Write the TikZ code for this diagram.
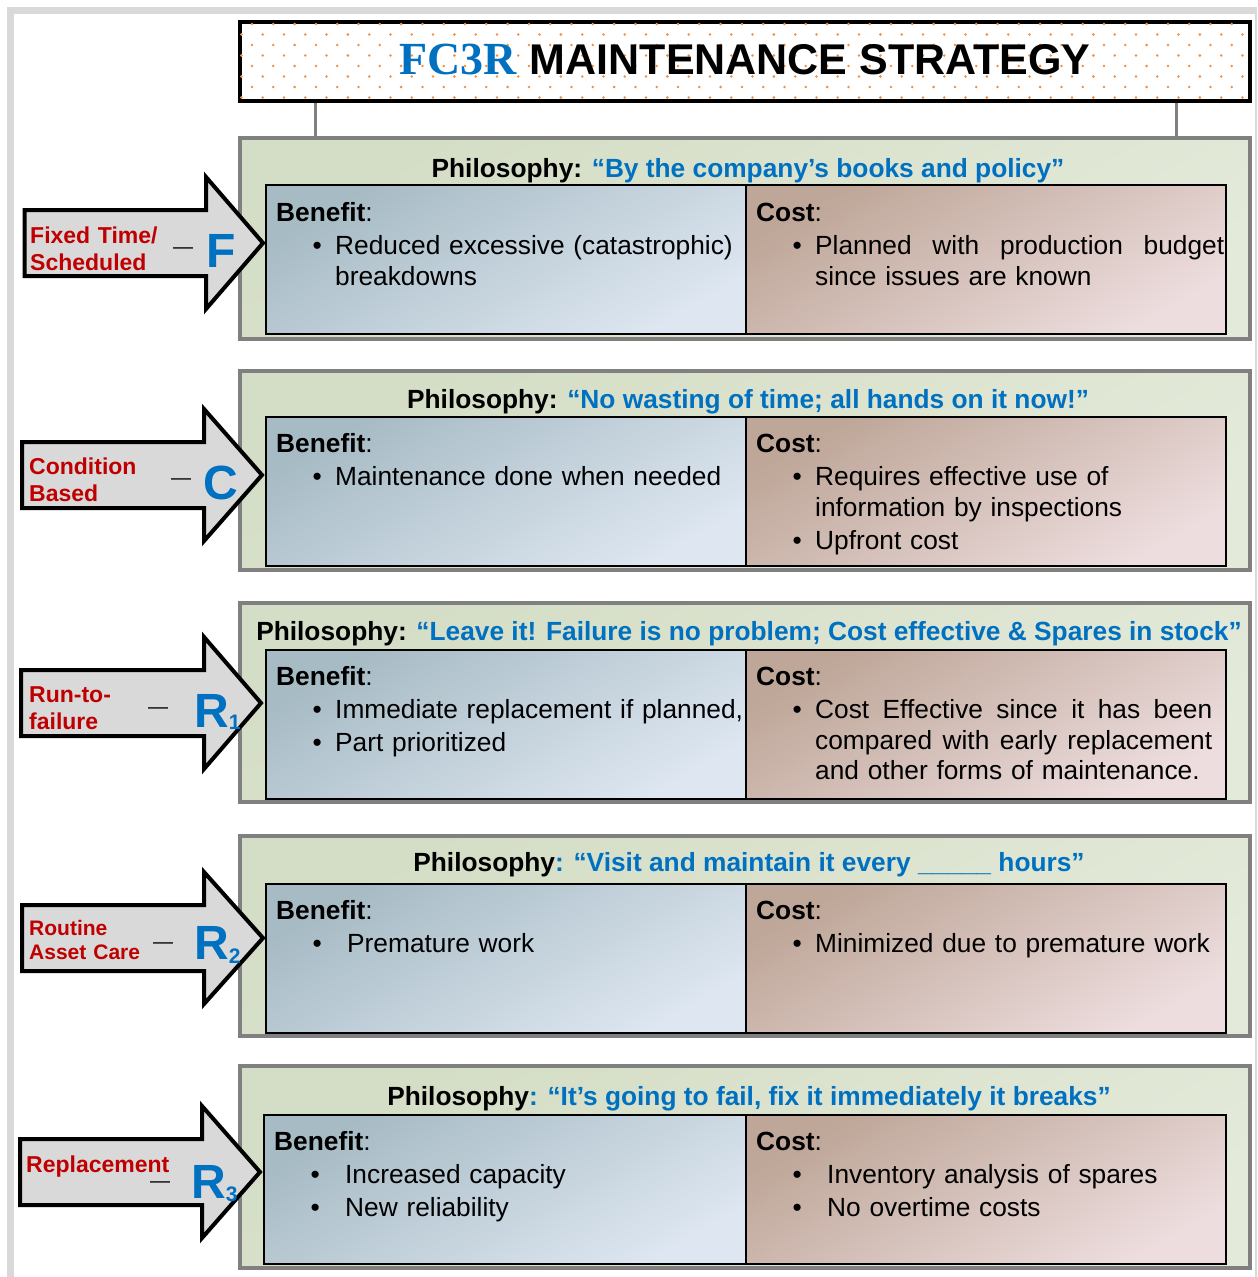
\documentclass[tikz,border=0pt]{standalone}
\usepackage{fontspec}
\setmainfont{Liberation Sans}
\newfontfamily\serifb{Liberation Serif}
\definecolor{tblue}{HTML}{0070C0}
\definecolor{tred}{HTML}{C00000}
\definecolor{agray}{HTML}{D9D9D9}
\definecolor{pgray}{HTML}{808080}
\definecolor{framec}{HTML}{D9D9D9}
\definecolor{dotc}{HTML}{F39040}
\definecolor{panTop}{HTML}{D4DDC5}
\definecolor{panBot}{HTML}{E4EADA}
\definecolor{benTop}{HTML}{A7BBC4}
\definecolor{benBot}{HTML}{DDE6F1}
\definecolor{costTop}{HTML}{BEA698}
\definecolor{costBot}{HTML}{EDDDDE}
\newcommand\bul[1]{\hspace*{36.5pt}\makebox[#1][l]{\textbullet}}
\newcommand\ind[1]{\hspace*{#1}}
\begin{document}
\begin{tikzpicture}[x=1pt,y=-1pt,
  panel/.style={draw=pgray, line width=3.5, top color=panTop, bottom color=panBot, shading angle=30, anchor=north west, inner sep=0, outer sep=0, minimum width=1010},
  benbox/.style={draw=black, line width=2, top color=benTop, bottom color=benBot, shading angle=30, anchor=north west, inner sep=0, outer sep=0, minimum height=149},
  costbox/.style={draw=black, line width=2, top color=costTop, bottom color=costBot, shading angle=30, anchor=north west, inner sep=0, outer sep=0, minimum height=149, minimum width=480},
  txt/.style={font=\fontsize{26.3}{30.5}\selectfont, inner sep=0},
  body/.style={txt, anchor=base west, text width=500, align=left},
  phil/.style={txt, anchor=base},
  lbl/.style={font=\bfseries\fontsize{23}{27}\selectfont, text=tred, anchor=base west, inner sep=0, text width=170, align=left},
  big/.style={font=\bfseries\fontsize{48}{48}\selectfont, text=tblue, anchor=base west, inner sep=0},
  dashtxt/.style={font=\fontsize{20}{20}\selectfont, anchor=base west, inner sep=0},
  arrowshape/.style={draw=black, line width=4, fill=agray, line join=miter},
  conn/.style={draw=pgray, line width=3}
]
\useasboundingbox (0,0) rectangle (1258,1277);
% outer frame
\draw[framec, line width=7] (10.5,1290) -- (10.5,10.5) -- (1257,10.5);
\draw[framec, line width=2] (1256,10.5) -- (1256,1290);

% title
\node[draw=black, line width=4, fill=white, minimum width=1010, minimum height=79, inner sep=0, outer sep=0] (title) at (745,61.5) {};
\begin{scope}
\clip (title.south west) rectangle (title.north east);
\foreach \r in {0,...,7}{
  \foreach \c in {-1,...,47}{
    \fill[dotc] ({252+21.3*\c+10.65*mod(\r,2)},{24+10.5*\r}) circle (1.4pt);
  }
}
\end{scope}
\node[anchor=base, inner sep=0] (ttl) at (745,74) {{\fontsize{46}{46}\selectfont\serifb\bfseries\color{tblue}FC3R}\hspace{13pt}{\fontsize{43}{43}\selectfont\bfseries MAINTENANCE STRATEGY}};

% panels
\node[panel, minimum height=201] (p1) at (240,138) {};
\node[panel, minimum height=199] (p2) at (240,371) {};
\node[panel, minimum height=199] (p3) at (240,603) {};
\node[panel, minimum height=200] (p4) at (240,836) {};
\node[panel, minimum height=202] (p5) at (240,1066) {};

\node[benbox, minimum width=480] (b1) at (266,185) {};
\node[costbox] (c1) at (746,185) {};
\node[benbox, minimum width=480] (b2) at (266,417) {};
\node[costbox] (c2) at (746,417) {};
\node[benbox, minimum width=480] (b3) at (266,650) {};
\node[costbox] (c3) at (746,650) {};
\node[benbox, minimum width=480] (b4) at (266,884) {};
\node[costbox] (c4) at (746,884) {};
\node[benbox, minimum width=482] (b5) at (264,1115) {};
\node[costbox] (c5) at (746,1115) {};

% connectors
\coordinate (k1) at (315,0);
\coordinate (k2) at (1176,0);
\draw[conn, shorten <=2, shorten >=1.5] (title.south -| k1) -- (p1.north -| k1);
\draw[conn, shorten <=2, shorten >=1.5] (title.south -| k2) -- (p1.north -| k2);

% philosophy lines
\node[phil] (ph1) at (748,177) {\textbf{Philosophy:} \textcolor{tblue}{\textbf{“By the company’s books and policy”}}};
\node[phil] (ph2) at (748,408) {\textbf{Philosophy:} \textcolor{tblue}{\textbf{“No wasting of time; all hands on it now!”}}};
\node[phil] (ph3) at (749,640) {\textbf{Philosophy:} \textcolor{tblue}{\textbf{“Leave it! Failure is no problem; Cost effective \& Spares in stock”}}};
\node[phil] (ph4) at (749,871) {\textbf{Philosophy}\textcolor{tblue}{\textbf{: “Visit and maintain it every \_\_\_\_\_ hours”}}};
\node[phil] (ph5) at (749,1105) {\textbf{Philosophy}\textcolor{tblue}{\textbf{: “It’s going to fail, fix it immediately it breaks”}}};

% benefit / cost texts
\node[body] (tb1) at (276,221) {\textbf{Benefit}:\\[3pt]\bul{22.5pt}Reduced excessive (catastrophic)\\\ind{59pt}breakdowns};
\node[body] (tc1) at (756,221) {\textbf{Cost}:\\[3pt]\bul{22.5pt}\makebox[409pt][l]{Planned\hfill with\hfill production\hfill budget}\\\ind{59pt}since issues are known};

\node[body] (tb2) at (276,452) {\textbf{Benefit}:\\[3pt]\bul{22.5pt}Maintenance done when needed};
\node[body] (tc2) at (756,452) {\textbf{Cost}:\\[3pt]\bul{22.5pt}Requires effective use of\\\ind{59pt}information by inspections\\[2.5pt]\bul{22.5pt}Upfront cost};

\node[body] (tb3) at (276,685) {\textbf{Benefit}:\\[3pt]\bul{22.5pt}Immediate replacement if planned,\\[2pt]\bul{22.5pt}Part prioritized};
\node[body] (tc3) at (756,685) {\textbf{Cost}:\\[3pt]\bul{22.5pt}\makebox[397pt][l]{Cost\hfill Effective\hfill since\hfill it\hfill has\hfill been}\\\ind{59pt}\makebox[397pt][l]{compared\hfill with\hfill early\hfill replacement}\\\ind{59pt}and other forms of maintenance.};

\node[body] (tb4) at (276,919) {\textbf{Benefit}:\\[3pt]\bul{34.5pt}Premature work};
\node[body] (tc4) at (756,919) {\textbf{Cost}:\\[3pt]\bul{22.5pt}Minimized due to premature work};

\node[body] (tb5) at (274,1150) {\textbf{Benefit}:\\[3pt]\bul{34.5pt}Increased capacity\\[2pt]\bul{34.5pt}New reliability};
\node[body] (tc5) at (756,1150) {\textbf{Cost}:\\[3pt]\bul{34.5pt}Inventory analysis of spares\\[2.5pt]\bul{34.5pt}No overtime costs};

% block arrows
\draw[arrowshape] (24.5,210) -- (206,210) -- (206,177) -- (263,243) -- (206,309) -- (206,276) -- (24.5,276) -- cycle;
\draw[arrowshape] (22,442) -- (204,442) -- (204,409) -- (262,475) -- (204,541) -- (204,508) -- (22,508) -- cycle;
\draw[arrowshape] (21,670) -- (204,670) -- (204,637) -- (261,703) -- (204,769) -- (204,736) -- (21,736) -- cycle;
\draw[arrowshape] (22,905) -- (204,905) -- (204,872) -- (263,938) -- (204,1004) -- (204,971) -- (22,971) -- cycle;
\draw[arrowshape] (20,1139) -- (202,1139) -- (202,1106) -- (260,1172) -- (202,1238) -- (202,1205) -- (20,1205) -- cycle;

% arrow labels
\node[lbl] (l1) at (30,243) {Fixed Time/\\Scheduled};
\node[dashtxt] (d1) at (173,253) {—};
\node[big] (g1) at (206,267) {F};

\node[lbl] (l2) at (29,474) {Condition\\Based};
\node[dashtxt] (d2) at (171,484) {—};
\node[big] (g2) at (203,499) {C};

\node[lbl] (l3) at (29,702) {Run-to-\\failure};
\node[dashtxt] (d3) at (148,713) {—};
\node[big] (g3) at (194,727) {R\raisebox{-2pt}{\fontsize{21}{21}\selectfont 1}};

\node[lbl, font=\bfseries\fontsize{21}{24}\selectfont] (l4) at (29,935) {Routine\\Asset Care};
\node[dashtxt] (d4) at (153,948) {—};
\node[big] (g4) at (194,959) {R\raisebox{-4pt}{\fontsize{21}{21}\selectfont 2}};

\node[lbl] (l5) at (26,1172) {Replacement};
\node[dashtxt] (d5) at (150,1187) {—};
\node[big] (g5) at (191,1198) {R\raisebox{-3pt}{\fontsize{21}{21}\selectfont 3}};
\end{tikzpicture}
\end{document}
